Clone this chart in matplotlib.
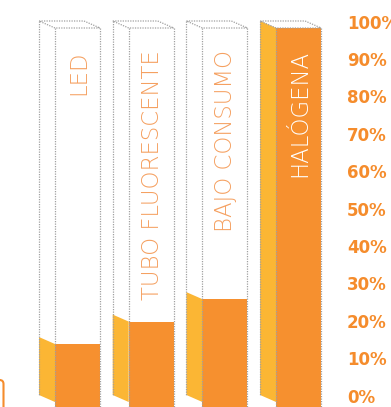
import numpy as np
import matplotlib
matplotlib.use("Agg")
import matplotlib.pyplot as plt
from matplotlib.patches import Polygon, FancyBboxPatch

# data
labels = ["LED", "TUBO FLUORESCENTE", "BAJO CONSUMO", "HALÓGENA"]
values = [15.5, 21.5, 27.5, 100]
ticks = [0, 10, 20, 30, 40, 50, 60, 70, 80, 90, 100]

FRONT = "#F6902F"
SIDE = "#FBB634"
TXT = "#F5A060"
TICK = "#F58C2C"
DOT = "#a0a0a0"

# layout in pixels (figure 391x407), y in percent
S = 3.74                     # px per percent
base = 402                   # px from top where 0% sits
ybot = -(407 - base) / S
ytop = base / S
DX, DY = 16, 7 / S           # 3d depth offset
W = 45

fig = plt.figure(figsize=(3.91, 4.07), dpi=100)
ax = fig.add_axes([0, 0, 1, 1])
ax.set_xlim(0, 391); ax.set_ylim(ybot, ytop); ax.axis("off")

dot = dict(color=DOT, lw=0.9, ls=(0, (1, 1)), zorder=5)
for i, (lab, v) in enumerate(zip(labels, values)):
    x0 = 55 + i * 73.7
    # filled part
    ax.bar(x0, v - ybot, bottom=ybot, width=W, align="edge", color=FRONT, lw=0, zorder=2)
    ax.add_patch(Polygon([(x0 - DX, v + DY), (x0, v), (x0, 0), (x0 - DX, DY)],
                         closed=True, facecolor=SIDE, lw=0, zorder=2))
    # dotted box
    ax.plot([x0 - DX, x0 - DX], [100 + DY, DY], **dot)
    ax.plot([x0, x0], [100, ybot], **dot)
    ax.plot([x0 + W, x0 + W], [100, ybot], **dot)
    ax.plot([x0 - DX, x0 - DX + W, x0 + W, x0, x0 - DX],
            [100 + DY, 100 + DY, 100, 100, 100 + DY], **dot)
    ax.text(x0 + W / 2 + 1, (base - 50) / S, lab, rotation=90, ha="center", va="top",
            fontsize=16.5, family="DejaVu Sans", fontweight=200,
            color="white" if v > 90 else TXT, zorder=6)

for t in ticks:
    ax.text(347, t + 1.2, f"{t}%", ha="left", va="center", fontsize=12,
            family="DejaVu Sans", fontweight="bold", color=TICK)

# clipped icon edge at bottom-left
ax.add_patch(FancyBboxPatch((-40, (base - 430) / S), 43.5, (430 - 380) / S,
                            boxstyle="round,pad=0,rounding_size=4", mutation_aspect=1 / S,
                            facecolor="none", edgecolor="#F58C2C", lw=1.5, zorder=3))

fig.savefig("out.png", dpi=100)
